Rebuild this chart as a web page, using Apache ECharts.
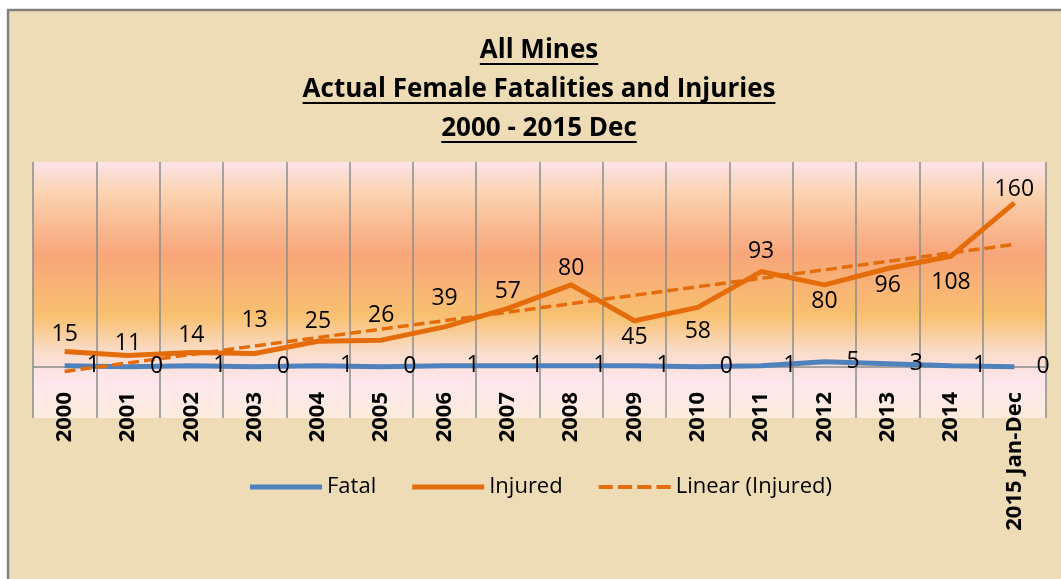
<!DOCTYPE html>
<html>
<head>
<meta charset="utf-8">
<title>All Mines - Actual Female Fatalities and Injuries</title>
<script src="https://cdn.jsdelivr.net/npm/echarts@6/dist/echarts.min.js"></script>
<style>
  html, body { margin: 0; padding: 0; background: #fff; }
  #main { width: 1061px; height: 579px; }
</style>
</head>
<body>
<div id="main"></div>
<script>
const years = ['2000', '2001', '2002', '2003', '2004', '2005', '2006', '2007',
  '2008', '2009', '2010', '2011', '2012', '2013', '2014', '2015 Jan-Dec'];
const fatal = [1, 0, 1, 0, 1, 0, 1, 1, 1, 1, 0, 1, 5, 3, 1, 0];
const injured = [15, 11, 14, 13, 25, 26, 39, 57, 80, 45, 58, 93, 80, 96, 108, 160];
// excel trendline, start / end values
const injuredTrend = [-4.5, 119.5];
const titleLines = ['All Mines', 'Actual Female Fatalities and Injuries', '2000 - 2015 Dec'];

const FONT = '"Open Sans", sans-serif';
const BLUE = '#4f81bd';
const ORANGE = '#e46c0a';
const GRID_GRAY = '#8c8c8c';

// injured labels that excel put under the line
const labelsBelow = [9, 10, 12, 13, 14];
// small vertical nudges so labels sit where excel left them
const labelNudge = { 1: 4, 3: -16, 4: -3, 5: -8, 6: -12, 10: 7, 11: -4, 14: 10, 15: 3 };

// legend icons: thick bar, and a dashed bar for the trendline
const SOLID_ICON = 'path://M0,0H72V5H0Z';
const DASH_ICON = 'path://M0,0H14V4H0Z M19,0H33V4H19Z M38,0H52V4H38Z M57,0H71V4H57Z';

const chart = echarts.init(document.getElementById('main'));

// title, with underline sized from the measured text
const measure = document.createElement('canvas').getContext('2d');
const titleFont = 'bold 26px "Open Sans"';
measure.font = titleFont;
const titleY = [51, 90, 129];
const titleGraphics = [];
titleLines.forEach((t, i) => {
  const w = measure.measureText(t).width;
  titleGraphics.push({
    type: 'text', x: 539, y: titleY[i],
    style: { text: t, font: titleFont, fill: '#000', textAlign: 'center', textVerticalAlign: 'middle' }
  });
  titleGraphics.push({
    type: 'rect', shape: { x: 539 - w / 2, y: titleY[i] + 12, width: w, height: 2 },
    style: { fill: '#000' }
  });
});

const injuredData = injured.map((v, i) => {
  const label = {};
  if (labelsBelow.includes(i)) label.position = 'bottom';
  if (labelNudge[i]) label.offset = [0, labelNudge[i]];
  return { value: v, label };
});

const option = {
  backgroundColor: '#ffffff',
  animation: false,
  textStyle: { fontFamily: FONT },
  graphic: [
    {
      type: 'rect', z: -10,
      shape: { x: 8, y: 10, width: 1100, height: 620 },
      style: { fill: '#eedcb6', stroke: '#808080', lineWidth: 2.5 }
    },
    ...titleGraphics
  ],
  grid: {
    left: 33, right: 15, top: 162, bottom: 161,
    show: true, borderWidth: 0,
    backgroundColor: {
      type: 'linear', x: 0, y: 0, x2: 0, y2: 1,
      colorStops: [
        { offset: 0, color: '#fde2ea' },
        { offset: 0.12, color: '#fbd3b0' },
        { offset: 0.36, color: '#f8a67a' },
        { offset: 0.6, color: '#f8c070' },
        { offset: 0.74, color: '#fadcc8' },
        { offset: 0.86, color: '#fde6ee' },
        { offset: 1, color: '#fcecdc' }
      ]
    }
  },
  legend: {
    top: 471, left: 245,
    itemWidth: 72, itemHeight: 5, itemGap: 36,
    textStyle: { fontSize: 22, color: '#000', fontFamily: FONT },
    data: [
      { name: 'Fatal', icon: SOLID_ICON },
      { name: 'Injured', icon: SOLID_ICON },
      { name: 'Linear (Injured)', icon: DASH_ICON }
    ]
  },
  xAxis: {
    type: 'category',
    data: years,
    boundaryGap: true,
    // labels sit under the zero line, not at the bottom of the plot area
    offset: -51,
    axisLine: { onZero: false, lineStyle: { color: GRID_GRAY, width: 1.5 } },
    axisTick: { show: false },
    axisLabel: {
      interval: 0, rotate: 90, margin: 25,
      fontSize: 22, fontWeight: 'bold', color: '#000', fontFamily: FONT
    },
    splitLine: { show: true, interval: 0, lineStyle: { color: GRID_GRAY, width: 1.5 } }
  },
  yAxis: { type: 'value', min: -50, max: 200, show: false },
  series: [
    {
      name: 'Fatal', type: 'line', data: fatal,
      symbol: 'circle', symbolSize: 0.1,
      lineStyle: { color: BLUE, width: 5 },
      itemStyle: { color: BLUE },
      label: { show: true, position: 'right', distance: 22, fontSize: 23, color: '#000', fontFamily: FONT }
    },
    {
      name: 'Injured', type: 'line',
      data: injuredData,
      symbol: 'circle', symbolSize: 0.1,
      lineStyle: { color: ORANGE, width: 5 },
      itemStyle: { color: ORANGE },
      label: { show: true, position: 'top', fontSize: 23, color: '#000', fontFamily: FONT }
    },
    {
      name: 'Linear (Injured)', type: 'line',
      data: [[years[0], injuredTrend[0]], [years[years.length - 1], injuredTrend[1]]],
      symbol: 'none', silent: true,
      lineStyle: { color: ORANGE, width: 3.5, type: [11, 5] },
      itemStyle: { color: ORANGE }
    }
  ]
};

chart.setOption(option);
</script>
</body>
</html>
